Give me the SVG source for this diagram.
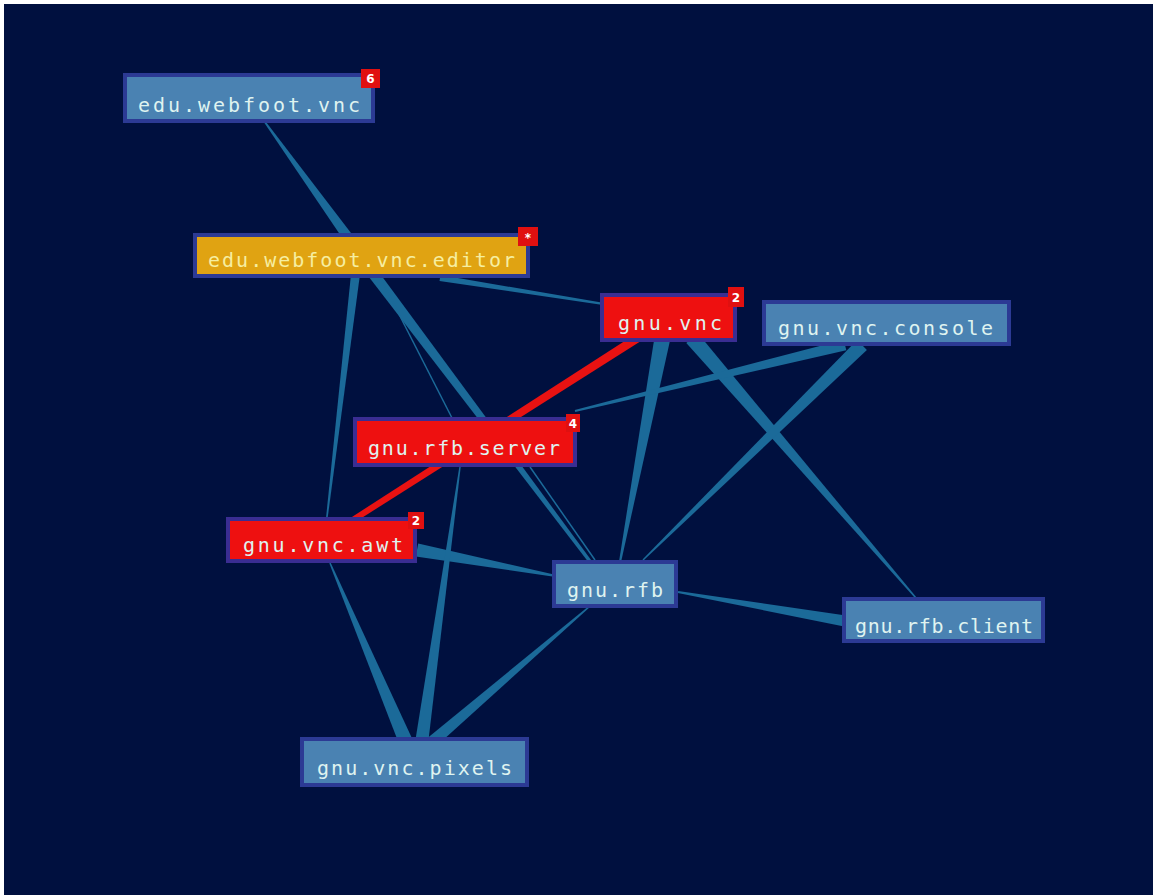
<svg xmlns="http://www.w3.org/2000/svg" width="1153" height="895" viewBox="0 0 1153 895">
<style>
.bg{fill:#00103f}
.e{fill:#1b6a99}
.el{stroke:#1b6a99;stroke-width:1.5;fill:none}
.er{fill:#e81212}
.nb rect.box{fill:#4a82b2;stroke:#2c3a94;stroke-width:4}
.nr rect.box{fill:#ee1010;stroke:#3a2d92;stroke-width:4}
.ny rect.box{fill:#e0a312;stroke:#2c3a94;stroke-width:4}
.t{font-family:"DejaVu Sans Mono","Liberation Mono",monospace;font-size:20px;fill:#dff3f0}
.ny .t{fill:#f6eea0}
.bd{fill:#e01010}
.bt{font-family:"DejaVu Sans","Liberation Sans",sans-serif;font-size:12px;font-weight:bold;fill:#ffffff;text-anchor:middle}
</style>
<rect class="bg" x="0" y="0" width="1153" height="895"/>
<rect x="0" y="0" width="1153" height="4" fill="#ffffff"/>
<rect x="0" y="0" width="4" height="895" fill="#ffffff"/>
<g id="connectors">
<polygon class="e" points="261.4,118.5 343,239 351,233 262.6,117.6"/>
<polygon class="e" points="367.6,275.3 596.8,572.9 599.2,571.1 376.4,268.7"/>
<line class="el" x1="380" y1="277" x2="452" y2="418"/>
<polygon class="e" points="351.5,269.5 325.3,524.9 326.7,525.1 360.5,270.5"/>
<polygon class="e" points="439.5,281 609.8,306 610.2,304 440.5,275"/>
<polygon class="e" points="655.1,333.5 619,561.8 621,562.2 670.9,336.5"/>
<polygon class="e" points="686.3,342.9 915.4,598.5 916.6,597.5 697.7,333.1"/>
<polygon class="e" points="857.1,340 642.5,559.5 643.5,560.5 866.9,350"/>
<polygon class="e" points="575.2,412 846.3,350.3 843.7,339.7 574.8,410"/>
<polygon class="e" points="415.8,556.4 555.8,577 556.2,575 418.2,543.6"/>
<polygon class="e" points="677.8,593 844.1,626.4 845.9,615.6 678.2,591"/>
<polygon class="e" points="329.3,563.3 398.6,742.7 411.5,737.3 330.7,562.7"/>
<polygon class="e" points="459.3,466.9 415.6,739.1 428.4,740.9 460.7,467.1"/>
<polygon class="e" points="589.5,605.4 428.1,737.5 435.9,746.5 590.5,606.6"/>
<line class="el" x1="530" y1="467" x2="595" y2="560"/>
<polygon class="er" points="647.6,326.2 343.4,522.5 346.6,527.5 652.4,333.8"/>
</g>
<g id="n-edu-webfoot-vnc" class="nb">
<rect class="box" x="125" y="75" width="248" height="46"/>
<text class="t" x="138" y="112" textLength="222" lengthAdjust="spacing">edu.webfoot.vnc</text>
<rect class="bd" x="361" y="69" width="19" height="19"/>
<text class="bt" x="370.5" y="83">6</text>
</g>
<g id="n-edu-webfoot-vnc-editor" class="ny">
<rect class="box" x="195" y="235" width="333" height="41"/>
<text class="t" x="208" y="267" textLength="307" lengthAdjust="spacing">edu.webfoot.vnc.editor</text>
<rect class="bd" x="518" y="227" width="20" height="19"/>
<text class="bt" x="528" y="242">*</text>
</g>
<g id="n-gnu-vnc" class="nr">
<rect class="box" x="602" y="295" width="133" height="45"/>
<text class="t" x="618" y="330" textLength="104" lengthAdjust="spacing">gnu.vnc</text>
<rect class="bd" x="728" y="287" width="16" height="20"/>
<text class="bt" x="736" y="302">2</text>
</g>
<g id="n-gnu-vnc-console" class="nb">
<rect class="box" x="764" y="302" width="245" height="42"/>
<text class="t" x="778" y="335" textLength="215" lengthAdjust="spacing">gnu.vnc.console</text>
</g>
<g id="n-gnu-rfb-server" class="nr">
<rect class="box" x="355" y="419" width="220" height="46"/>
<text class="t" x="368" y="455" textLength="192" lengthAdjust="spacing">gnu.rfb.server</text>
<rect class="bd" x="566" y="414" width="14" height="18"/>
<text class="bt" x="573" y="428">4</text>
</g>
<g id="n-gnu-vnc-awt" class="nr">
<rect class="box" x="228" y="519" width="187" height="42"/>
<text class="t" x="243" y="552" textLength="160" lengthAdjust="spacing">gnu.vnc.awt</text>
<rect class="bd" x="408" y="512" width="16" height="17"/>
<text class="bt" x="416" y="525">2</text>
</g>
<g id="n-gnu-rfb" class="nb">
<rect class="box" x="554" y="562" width="122" height="44"/>
<text class="t" x="567" y="597" textLength="96" lengthAdjust="spacing">gnu.rfb</text>
</g>
<g id="n-gnu-rfb-client" class="nb">
<rect class="box" x="844" y="599" width="199" height="42"/>
<text class="t" x="855" y="633" textLength="178" lengthAdjust="spacing">gnu.rfb.client</text>
</g>
<g id="n-gnu-vnc-pixels" class="nb">
<rect class="box" x="302" y="739" width="225" height="46"/>
<text class="t" x="317" y="775" textLength="195" lengthAdjust="spacing">gnu.vnc.pixels</text>
</g>
</svg>
